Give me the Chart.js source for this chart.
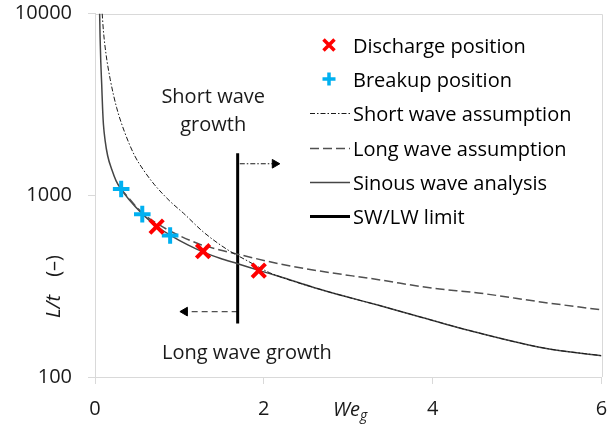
<!DOCTYPE html>
<html>
<head>
<meta charset="utf-8">
<script src="https://cdn.jsdelivr.net/npm/chart.js@4.4.1/dist/chart.umd.min.js"></script>
<style>
  html, body { margin: 0; padding: 0; background: #fff; }
</style>
</head>
<body>
<canvas id="stabilityChart" width="615" height="426"></canvas>
<script>
// Axis ticks
const xTicks = [0, 2, 4, 6];
const yTicks = [100, 1000, 10000];

const seriesNames = ['Discharge position', 'Breakup position', 'Short wave assumption',
  'Long wave assumption', 'Sinous wave analysis', 'SW/LW limit'];

// Measured positions
const dischargeWe = [0.73, 1.28, 1.94];
const dischargeLt = [672, 492, 385];
const breakupWe = [0.31, 0.56, 0.89];
const breakupLt = [1083, 787, 600];

// Model curves
const shortWe = [0.085, 0.1, 0.13, 0.18, 0.255, 0.35, 0.47, 0.573, 0.7, 0.89, 1.05, 1.28, 1.56, 1.8, 2.067, 2.185, 2.6, 2.97, 3.36, 3.76, 4.54, 5.33, 6.0];
const shortLt = [10000, 8000, 6000, 4350, 3050, 2230, 1650, 1380, 1150, 925, 795, 630, 505, 437, 375, 357, 310, 277, 248, 220, 175, 144, 131];
const longWe = [0.307, 0.56, 0.73, 0.9, 1.24, 1.48, 1.69, 2.185, 2.6, 3.36, 4.0, 4.54, 5.3, 6.0];
const longLt = [1083, 800, 702, 632, 538, 500, 474, 419, 387, 343, 308, 290, 258, 234];
const sinousWe = [0.055, 0.06, 0.068, 0.08, 0.09, 0.1, 0.12, 0.15, 0.2, 0.25, 0.307, 0.4, 0.56, 0.73, 0.9, 1.1, 1.29, 1.48, 1.69, 1.95, 2.185, 2.6, 2.97, 3.36, 3.76, 4.54, 5.33, 6.0];
const sinousLt = [10000, 7500, 5500, 4000, 3000, 2450, 2000, 1650, 1380, 1200, 1083, 950, 790, 675, 600, 533, 485, 450, 420, 385, 357, 310, 277, 248, 220, 175, 144, 131];

// SW/LW limit and the two region arrows
const limitWe = [1.69, 1.69];
const limitLt = [1700, 197];
const arrowRightWe = [1.715, 2.13];
const arrowRightLt = [1490, 1490];
const arrowLeftWe = [1.69, 1.065];
const arrowLeftLt = [229, 229];

const pts = (xs, ys) => xs.map((x, i) => ({ x: x, y: ys[i] }));

const FONT = "'Open Sans', sans-serif";
Chart.defaults.font.family = FONT;
Chart.defaults.font.size = 20;
Chart.defaults.color = '#1a1a1a';

const curve = (data, color, width, dash) => ({
  data: data,
  showLine: true,
  borderColor: color,
  borderWidth: width,
  borderDash: dash,
  pointRadius: 0,
  cubicInterpolationMode: 'monotone',
  fill: false
});

const arrow = (data, dash, rot, color) => ({
  data: data,
  showLine: true,
  borderColor: color,
  borderWidth: 1.2,
  borderDash: dash,
  pointRadius: [0, 5],
  pointStyle: 'triangle',
  rotation: rot,
  pointBackgroundColor: '#000',
  pointBorderColor: '#000',
  pointBorderWidth: 1
});

// frame on top/right, free text, axis titles and the legend box
const decorations = {
  id: 'decorations',
  beforeDatasetsDraw(chart) {
    const { ctx, chartArea: a } = chart;
    ctx.save();
    ctx.strokeStyle = '#d9d9d9';
    ctx.lineWidth = 1;
    ctx.beginPath();
    ctx.moveTo(a.left, Math.round(a.top) + 0.5);
    ctx.lineTo(Math.round(a.right) + 0.5, Math.round(a.top) + 0.5);
    ctx.lineTo(Math.round(a.right) + 0.5, a.bottom);
    ctx.stroke();
    ctx.restore();
  },
  afterDraw(chart) {
    const { ctx } = chart;
    const xs = chart.scales.x, ys = chart.scales.y;
    ctx.save();
    ctx.fillStyle = '#1a1a1a';
    ctx.font = '20px ' + FONT;
    ctx.textAlign = 'center';
    ctx.textBaseline = 'middle';
    ctx.fillText('Short wave', xs.getPixelForValue(1.4), ys.getPixelForValue(3560) + 2);
    ctx.fillText('growth', xs.getPixelForValue(1.4), ys.getPixelForValue(2495) + 2);
    ctx.fillText('Long wave growth', xs.getPixelForValue(1.8), ys.getPixelForValue(138) + 2);

    // x title: We with subscript g
    ctx.textAlign = 'left';
    ctx.textBaseline = 'alphabetic';
    ctx.font = 'italic 20px ' + FONT;
    ctx.fillText('We', 333, 416);
    const wW = ctx.measureText('We').width;
    ctx.font = 'italic 14px ' + FONT;
    ctx.fillText('g', 333 + wW, 420);

    // y title: L/t (–), rotated
    ctx.translate(60, 318);
    ctx.rotate(-Math.PI / 2);
    ctx.font = 'italic 20px ' + FONT;
    ctx.fillText('L/t', 0, 0);
    ctx.font = '20px ' + FONT;
    ctx.textAlign = 'right';
    ctx.fillText('(\u2013)', 63, 0);
    ctx.restore();

    // legend
    ctx.save();
    const rows = [47, 81, 115, 150, 184, 218];
    ctx.font = '20px ' + FONT;
    ctx.textAlign = 'left';
    ctx.textBaseline = 'middle';
    chart.data.datasets.slice(0, 6).forEach((ds, i) => {
      const y = rows[i];
      ctx.save();
      if (ds.showLine) {
        ctx.strokeStyle = ds.borderColor;
        ctx.lineWidth = ds.borderWidth;
        ctx.setLineDash(ds.borderDash || []);
        ctx.beginPath();
        ctx.moveTo(310, y - 1.5);
        ctx.lineTo(350, y - 1.5);
        ctx.stroke();
      } else {
        ctx.strokeStyle = ds.pointBorderColor;
        ctx.lineWidth = 3.5;
        const cx = 329, cy = y - 2;
        ctx.beginPath();
        if (ds.pointStyle === 'crossRot') {
          ctx.moveTo(cx - 5.5, cy - 5.5); ctx.lineTo(cx + 5.5, cy + 5.5);
          ctx.moveTo(cx + 5.5, cy - 5.5); ctx.lineTo(cx - 5.5, cy + 5.5);
        } else {
          ctx.moveTo(cx - 6.5, cy); ctx.lineTo(cx + 6.5, cy);
          ctx.moveTo(cx, cy - 6.5); ctx.lineTo(cx, cy + 6.5);
        }
        ctx.stroke();
      }
      ctx.restore();
      ctx.fillText(seriesNames[i], 353, y);
    });
    ctx.restore();
  }
};

new Chart(document.getElementById('stabilityChart'), {
  type: 'scatter',
  data: {
    datasets: [
      {
        data: pts(dischargeWe, dischargeLt),
        pointStyle: 'crossRot',
        pointRadius: 9.5,
        pointBorderWidth: 4,
        pointBorderColor: '#ff0000',
        pointBackgroundColor: '#ff0000'
      },
      {
        data: pts(breakupWe, breakupLt),
        pointStyle: 'cross',
        pointRadius: 8.3,
        pointBorderWidth: 4,
        pointBorderColor: '#00b0f0',
        pointBackgroundColor: '#00b0f0'
      },
      curve(pts(shortWe, shortLt), '#1a1a1a', 1, [5, 2, 1.5, 2]),
      curve(pts(longWe, longLt), '#505050', 1.5, [9, 4]),
      curve(pts(sinousWe, sinousLt), '#454545', 1.5, []),
      {
        data: pts(limitWe, limitLt),
        showLine: true,
        borderColor: '#000',
        borderWidth: 3,
        pointRadius: 0
      },
      arrow(pts(arrowRightWe, arrowRightLt), [5, 2, 1.5, 2], 90, '#1a1a1a'),
      arrow(pts(arrowLeftWe, arrowLeftLt), [6, 4], -90, '#505050')
    ]
  },
  options: {
    responsive: false,
    animation: false,
    layout: { padding: { top: 13, right: 9, left: 0, bottom: 0 } },
    plugins: {
      legend: { display: false },
      tooltip: { enabled: false }
    },
    scales: {
      x: {
        type: 'linear',
        min: 0,
        max: 6,
        afterBuildTicks: s => { s.ticks = xTicks.map(v => ({ value: v })); },
        afterFit: s => { s.height = 49; s.paddingLeft = 0; s.paddingRight = 0; },
        grid: { drawOnChartArea: false, tickLength: 7, color: '#d9d9d9' },
        border: { color: '#d9d9d9' },
        ticks: { padding: 13, callback: v => String(v), font: { size: 20 } }
      },
      y: {
        type: 'logarithmic',
        min: 100,
        max: 10000,
        afterBuildTicks: s => { s.ticks = yTicks.map(v => ({ value: v })); },
        afterFit: s => { s.width = 95; s.paddingTop = 0; s.paddingBottom = 0; },
        grid: { drawOnChartArea: false, tickLength: 7, color: '#d9d9d9' },
        border: { color: '#d9d9d9' },
        ticks: { padding: 16, callback: v => String(v), font: { size: 20 } }
      }
    }
  },
  plugins: [decorations]
});
</script>
</body>
</html>
